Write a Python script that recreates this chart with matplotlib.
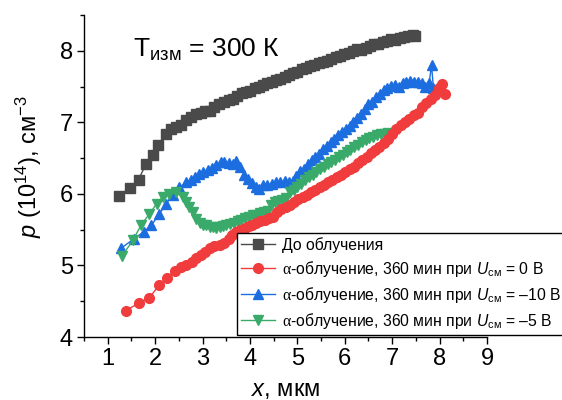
import matplotlib
matplotlib.use("Agg")
import matplotlib.pyplot as plt
from matplotlib.ticker import MultipleLocator

plt.rcParams['font.family'] = ['Liberation Sans', 'DejaVu Sans']
plt.rcParams['mathtext.fontset'] = 'custom'
plt.rcParams['mathtext.rm'] = 'Liberation Serif'
plt.rcParams['mathtext.sf'] = 'Liberation Sans'
plt.rcParams['mathtext.it'] = 'Liberation Sans:italic'
plt.rcParams['mathtext.bf'] = 'Liberation Sans:bold'

# ---- data ----
x_before = [1.23, 1.46, 1.65, 1.81, 1.96, 2.07, 2.23, 2.34, 2.45, 2.55, 2.65, 2.75, 2.86, 2.96,
            3.06, 3.16, 3.25, 3.35, 3.45, 3.55, 3.64, 3.73, 3.83, 3.92, 4.01, 4.10, 4.19, 4.28,
            4.37, 4.46, 4.55, 4.64, 4.73, 4.82, 4.91, 5.00, 5.09, 5.18, 5.27, 5.36, 5.45, 5.54,
            5.63, 5.72, 5.81, 5.90, 5.99, 6.08, 6.17, 6.26, 6.35, 6.44, 6.53, 6.62, 6.71, 6.80,
            6.89, 6.98, 7.07, 7.16, 7.25, 7.34, 7.43, 7.48]
p_before = [5.97, 6.08, 6.20, 6.42, 6.55, 6.69, 6.84, 6.90, 6.93, 6.96, 7.03, 7.08, 7.12, 7.13,
            7.16, 7.16, 7.22, 7.26, 7.29, 7.31, 7.33, 7.37, 7.41, 7.43, 7.44, 7.48, 7.50, 7.52,
            7.55, 7.57, 7.59, 7.60, 7.63, 7.66, 7.69, 7.71, 7.74, 7.76, 7.79, 7.80, 7.83, 7.84,
            7.86, 7.89, 7.91, 7.93, 7.95, 7.97, 7.99, 8.02, 8.01, 8.04, 8.06, 8.09, 8.10, 8.12,
            8.13, 8.16, 8.15, 8.18, 8.19, 8.20, 8.22, 8.21]

x_0V = [1.38, 1.65, 1.88, 2.08, 2.25, 2.41, 2.55, 2.66, 2.77, 2.87, 2.97, 3.06, 3.15, 3.25,
        3.36, 3.45, 3.55, 3.63, 3.71, 3.80, 3.89, 3.97, 4.05, 4.13, 4.22, 4.31, 4.40, 4.48,
        4.57, 4.66, 4.75, 4.84, 4.93, 5.02, 5.11, 5.20, 5.29, 5.38, 5.47, 5.56, 5.65, 5.74,
        5.83, 5.92, 6.01, 6.10, 6.19, 6.28, 6.37, 6.46, 6.55, 6.64, 6.73, 6.82, 6.91, 7.00,
        7.09, 7.18, 7.27, 7.36, 7.45, 7.54, 7.63, 7.72, 7.81, 7.90, 7.98, 8.05, 8.12]
p_0V = [4.37, 4.47, 4.55, 4.72, 4.83, 4.92, 4.98, 5.01, 5.05, 5.10, 5.14, 5.19, 5.24, 5.27,
        5.28, 5.31, 5.37, 5.42, 5.47, 5.50, 5.53, 5.55, 5.57, 5.60, 5.62, 5.63, 5.66, 5.68,
        5.74, 5.79, 5.81, 5.84, 5.89, 5.93, 5.96, 5.99, 6.02, 6.06, 6.10, 6.13, 6.16, 6.20,
        6.23, 6.27, 6.31, 6.35, 6.37, 6.43, 6.47, 6.52, 6.57, 6.62, 6.66, 6.71, 6.77, 6.84,
        6.90, 6.96, 7.00, 7.04, 7.10, 7.13, 7.22, 7.27, 7.33, 7.38, 7.48, 7.53, 7.40]

x_10V = [1.28, 1.55, 1.76, 1.92, 2.09, 2.23, 2.37, 2.51, 2.65, 2.75, 2.84, 2.93, 3.02, 3.11,
         3.20, 3.29, 3.38, 3.46, 3.55, 3.64, 3.71, 3.80, 3.88, 3.96, 4.05, 4.13, 4.20, 4.28,
         4.37, 4.46, 4.55, 4.64, 4.73, 4.82, 4.90, 4.98, 5.06, 5.14, 5.22, 5.30, 5.38, 5.46,
         5.54, 5.62, 5.70, 5.78, 5.86, 5.94, 6.02, 6.10, 6.18, 6.26, 6.34, 6.42, 6.50, 6.58,
         6.66, 6.74, 6.82, 6.90, 6.98, 7.06, 7.14, 7.22, 7.30, 7.38, 7.46, 7.54, 7.62, 7.70,
         7.78, 7.83, 7.87]
p_10V = [5.24, 5.37, 5.47, 5.56, 5.72, 5.86, 5.98, 6.09, 6.16, 6.20, 6.24, 6.28, 6.30, 6.34,
         6.36, 6.40, 6.44, 6.45, 6.43, 6.42, 6.46, 6.37, 6.27, 6.21, 6.15, 6.10, 6.07, 6.12,
         6.13, 6.14, 6.16, 6.16, 6.18, 6.17, 6.18, 6.25, 6.32, 6.35, 6.42, 6.47, 6.52, 6.56,
         6.63, 6.67, 6.72, 6.77, 6.82, 6.87, 6.91, 6.95, 7.00, 7.06, 7.12, 7.18, 7.25, 7.29,
         7.35, 7.40, 7.45, 7.48, 7.51, 7.52, 7.50, 7.55, 7.56, 7.58, 7.57, 7.56, 7.55, 7.50,
         7.55, 7.80, 7.48]

x_5V = [1.30, 1.53, 1.70, 1.88, 2.03, 2.16, 2.30, 2.44, 2.58, 2.65, 2.72, 2.80, 2.87, 2.95,
        3.02, 3.08, 3.15, 3.22, 3.29, 3.36, 3.43, 3.50, 3.58, 3.66, 3.74, 3.82, 3.90, 3.98,
        4.06, 4.14, 4.22, 4.30, 4.38, 4.45, 4.52, 4.60, 4.68, 4.76, 4.84, 4.92, 5.00, 5.08,
        5.16, 5.24, 5.32, 5.40, 5.48, 5.56, 5.64, 5.72, 5.80, 5.88, 5.96, 6.04, 6.12, 6.20,
        6.28, 6.36, 6.44, 6.52, 6.60, 6.68, 6.76, 6.84, 6.92]
p_5V = [5.13, 5.35, 5.56, 5.72, 5.86, 5.96, 6.00, 6.02, 5.96, 5.89, 5.82, 5.74, 5.65, 5.60,
        5.57, 5.56, 5.54, 5.54, 5.53, 5.54, 5.55, 5.56, 5.58, 5.60, 5.62, 5.64, 5.66, 5.68,
        5.70, 5.71, 5.73, 5.74, 5.76, 5.85, 5.89, 5.90, 5.92, 5.94, 6.02, 6.06, 6.10, 6.14,
        6.19, 6.23, 6.27, 6.31, 6.35, 6.38, 6.42, 6.45, 6.48, 6.52, 6.55, 6.59, 6.62, 6.65,
        6.69, 6.72, 6.76, 6.78, 6.80, 6.82, 6.84, 6.83, 6.85]

labels = ["До облучения",
          r"$\mathrm{\alpha}$-облучение, 360 мин при $U_{\mathsf{см}}$ = 0 В",
          r"$\mathrm{\alpha}$-облучение, 360 мин при $U_{\mathsf{см}}$ = –10 В",
          r"$\mathrm{\alpha}$-облучение, 360 мин при $U_{\mathsf{см}}$ = –5 В"]

c_black = '#4a4a4a'
c_red = '#f03c3c'
c_blue = '#1c6ee0'
c_green = '#3aaa6a'

fig = plt.figure(figsize=(5.62, 4.0), dpi=100)
ax = fig.add_axes([84/562, 1-337/400, (487-84)/562, (337-15)/400])

h1, = ax.plot(x_before, p_before, '-s', color=c_black, lw=1, ms=6.5, zorder=2, label=labels[0])
h3, = ax.plot(x_10V, p_10V, '-^', color=c_blue, lw=1, ms=7.5, zorder=3, label=labels[2])
h4, = ax.plot(x_5V, p_5V, '-v', color=c_green, lw=1, ms=7.5, zorder=4, label=labels[3])
h2, = ax.plot(x_0V, p_0V, '-o', color=c_red, lw=1, ms=7, zorder=5, label=labels[1])

ax.set_xlim(0.5, 9)
ax.set_ylim(4, 8.5)
ax.xaxis.set_major_locator(MultipleLocator(1))
ax.xaxis.set_minor_locator(MultipleLocator(0.5))
ax.yaxis.set_major_locator(MultipleLocator(1))
ax.yaxis.set_minor_locator(MultipleLocator(0.5))
ax.spines['top'].set_visible(False)
ax.spines['right'].set_visible(False)
for s in ('left', 'bottom'):
    ax.spines[s].set_linewidth(1)
    ax.spines[s].set_color('black')
ax.tick_params(which='major', direction='out', length=5, width=1, labelsize=17, pad=3)
ax.tick_params(which='minor', direction='out', length=3, width=1)

ax.set_xlabel(r"$x$, мкм", fontsize=17)
ax.xaxis.set_label_coords(0.5, -0.13)
ax.set_ylabel(r"$p$ (10$^{\mathsf{14}}$), см$^{\mathsf{-3}}$", fontsize=17)
ax.yaxis.set_label_coords(-0.10, 0.53)

fig.text(133/562, 1-50/400, r"T$_{\mathsf{изм}}$ = 300 К", fontsize=19, ha='left', va='center')

leg = ax.legend(handles=[h1, h2, h3, h4], loc='upper left',
                bbox_to_anchor=((237-84)/403, (337-233)/322),
                borderaxespad=0, fontsize=11.3, frameon=True, fancybox=False,
                framealpha=1, edgecolor='black', handlelength=2.2, handletextpad=0.4,
                borderpad=0.25, labelspacing=0.38)
leg.get_frame().set_linewidth(1)

fig.savefig("out.png", dpi=100)
